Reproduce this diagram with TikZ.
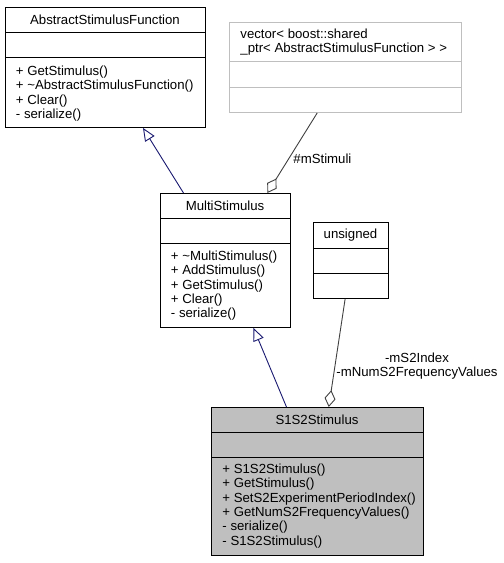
\documentclass[tikz,border=0pt]{standalone}
\usepackage{fontspec}
\setmainfont{Liberation Sans}
\usetikzlibrary{arrows.meta}
\definecolor{edgeblue}{HTML}{191970}
\definecolor{boxgray}{HTML}{BFBFBF}
\definecolor{edgegray}{HTML}{404040}
\tikzset{
  classbox/.style={draw=black,fill=white,anchor=north west,inner sep=0pt},
  classname/.style={inner sep=0pt},
  members/.style={align=left,anchor=base west,inner sep=0pt},
  inherit/.style={draw=edgeblue,-{Triangle[open,length=13pt,width=11pt]}},
  aggr/.style={draw=edgegray,{Diamond[open,length=17pt,width=11pt]}-},
  rolelabel/.style={inner sep=0pt}
}
\begin{document}
\begin{tikzpicture}[x=1pt,y=-1pt,line width=0.9pt,
  every node/.append style={font=\fontsize{13.2}{14.3}\selectfont}]
  \useasboundingbox (0,0) rectangle (504,563);
  % AbstractStimulusFunction
  \node[classbox,minimum width=200pt,minimum height=120pt] (abs) at (5,7) {};
  \draw (abs.west |- 0,32) -- (abs.east |- 0,32);
  \draw (abs.west |- 0,57) -- (abs.east |- 0,57);
  \node[classname] (absname) at (105,19.5) {AbstractStimulusFunction};
  % members: anchored at the baseline of the last line
  \node[members] (absops) at (15.5,118.4) {+ GetStimulus()\\+ \textasciitilde AbstractStimulusFunction()\\+ Clear()\\- serialize()};
  % vector< boost::shared_ptr< ... > >
  \node[classbox,draw=boxgray,minimum width=232pt,minimum height=90pt] (vector) at (229,22) {};
  \draw[boxgray] (vector.west |- 0,61) -- (vector.east |- 0,61);
  \draw[boxgray] (vector.west |- 0,87) -- (vector.east |- 0,87);
  \node[members] (vectorname) at (240,52.3) {vector< boost::shared\\\_ptr< AbstractStimulusFunction > >};
  % MultiStimulus
  \node[classbox,minimum width=130pt,minimum height=134pt] (multi) at (160,193) {};
  \draw (multi.west |- 0,218) -- (multi.east |- 0,218);
  \draw (multi.west |- 0,243) -- (multi.east |- 0,243);
  \node[classname] (multiname) at (225,205.5) {MultiStimulus};
  \node[members] (multiops) at (170.5,317.7) {+ \textasciitilde MultiStimulus()\\+ AddStimulus()\\+ GetStimulus()\\+ Clear()\\- serialize()};
  % unsigned
  \node[classbox,minimum width=75pt,minimum height=76pt] (unsigned) at (313,222) {};
  \draw (unsigned.west |- 0,248) -- (unsigned.east |- 0,248);
  \draw (unsigned.west |- 0,273) -- (unsigned.east |- 0,273);
  \node[classname] (unsignedname) at (350.5,235) {unsigned};
  % S1S2Stimulus
  \node[classbox,fill=boxgray,minimum width=212pt,minimum height=148pt] (s1s2) at (211,407) {};
  \draw (s1s2.west |- 0,432) -- (s1s2.east |- 0,432);
  \draw (s1s2.west |- 0,457) -- (s1s2.east |- 0,457);
  \node[classname] (s1s2name) at (317,419.5) {S1S2Stimulus};
  \node[members] (s1s2ops) at (222,545) {+ S1S2Stimulus()\\+ GetStimulus()\\+ SetS2ExperimentPeriodIndex()\\+ GetNumS2FrequencyValues()\\- serialize()\\- S1S2Stimulus()};
  % relations
  \path (multi) edge[inherit] (abs);
  \path (s1s2) edge[inherit] (multi);
  \path (multi) edge[aggr] (vector);
  \path (s1s2) edge[aggr] (unsigned);
  \node[rolelabel,anchor=west] (stimuli) at (293,159) {\#mStimuli};
  \node[rolelabel,align=center] (s2roles) at (417,366) {-mS2Index\\-mNumS2FrequencyValues};
\end{tikzpicture}
\end{document}
